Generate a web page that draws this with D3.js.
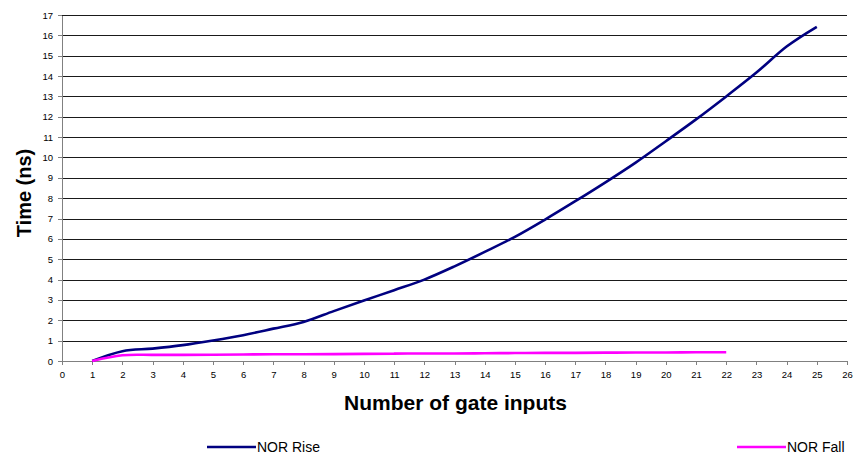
<!DOCTYPE html>
<meta charset="utf-8">
<style>
body {
  margin: 0;
  background-color: #ffffff;
}
.axis text {
  font: 9.5px "Liberation Sans", Arial, sans-serif;
  fill: #000;
}
.axis path,
.axis line {
  fill: none;
  stroke: #808080;
  stroke-width: 1px;
  shape-rendering: crispEdges;
}
.grid line {
  stroke: #1a1a1a;
  stroke-width: 1px;
  shape-rendering: crispEdges;
}
.grid path {
  display: none;
}
.title {
  font: bold 21px "Liberation Sans", Arial, sans-serif;
  fill: #000;
}
.legend text {
  font: 14px "Liberation Sans", Arial, sans-serif;
  fill: #000;
}
</style>
<body>
<script src="https://d3js.org/d3.v7.min.js"></script>
<script>
  // gate inputs
  var riseInputs = [1, 2, 3, 4, 5, 6, 7, 8, 9, 10, 11, 12, 13, 14, 15, 16, 17, 18, 19, 20, 21, 22, 23, 24, 25];
  var fallInputs = [1, 2, 3, 4, 5, 6, 7, 8, 9, 10, 11, 12, 13, 14, 15, 16, 17, 18, 19, 20, 21, 22];
  // times in ns
  var norRise = [0, 0.48, 0.61, 0.78, 1.01, 1.27, 1.59, 1.92, 2.45, 2.97, 3.48, 4.0, 4.65, 5.36, 6.1, 6.95, 7.85, 8.78, 9.75, 10.8, 11.87, 13.0, 14.17, 15.45, 16.42];
  var norFall = [0, 0.28, 0.3, 0.3, 0.31, 0.32, 0.33, 0.33, 0.34, 0.35, 0.36, 0.37, 0.37, 0.38, 0.39, 0.4, 0.4, 0.41, 0.42, 0.42, 0.43, 0.43];
  var xTicks = d3.range(0, 27);
  var yTicks = d3.range(0, 18);

  var margin = {top: 15, right: 6, bottom: 98, left: 62},
      width = 853 - margin.left - margin.right,
      height = 459 - margin.top - margin.bottom;

  var x = d3.scaleLinear().domain([0, 26]).range([0, width]);
  var y = d3.scaleLinear().domain([0, 17]).range([height, 0]);

  var svg = d3.select("body").append("svg")
      .attr("width", 853)
      .attr("height", 459)
    .append("g")
      .attr("transform", "translate(" + margin.left + "," + margin.top + ")");

  // horizontal gridlines
  svg.append("g")
      .attr("class", "grid")
      .call(d3.axisLeft(y).tickValues(yTicks.slice(1)).tickSize(-width).tickFormat(""));

  // y axis
  svg.append("g")
      .attr("class", "axis")
      .call(d3.axisLeft(y).tickValues(yTicks).tickSize(4).tickSizeOuter(0).tickPadding(5).tickFormat(d3.format("d")));

  // x axis
  svg.append("g")
      .attr("class", "axis")
      .attr("transform", "translate(0," + height + ")")
      .call(d3.axisBottom(x).tickValues(xTicks).tickSize(4).tickSizeOuter(0).tickPadding(6).tickFormat(d3.format("d")));

  var line = d3.line()
      .x(function(d) { return x(d[0]); })
      .y(function(d) { return y(d[1]); })
      .curve(d3.curveCatmullRom.alpha(0));

  var series = [
    {name: "NOR Rise", color: "#000080", xs: riseInputs, ys: norRise},
    {name: "NOR Fall", color: "#ff00ff", xs: fallInputs, ys: norFall}
  ];

  svg.selectAll(".series")
      .data(series)
    .enter().append("path")
      .attr("class", "series")
      .attr("fill", "none")
      .attr("stroke", function(d) { return d.color; })
      .attr("stroke-width", 2.6)
      .attr("d", function(d) { return line(d.xs.map(function(v, i) { return [v, d.ys[i]]; })); });

  // axis titles
  svg.append("text")
      .attr("class", "title")
      .attr("text-anchor", "middle")
      .attr("x", width / 2 + 1)
      .attr("y", height + 49)
      .text("Number of gate inputs");

  svg.append("text")
      .attr("class", "title")
      .style("font-size", "20px")
      .attr("text-anchor", "middle")
      .attr("transform", "translate(-31," + (height / 2 + 5) + ") rotate(-90)")
      .text("Time (ns)");

  // legend
  var legendX = [207, 737];
  var legend = d3.select("svg").selectAll(".legend")
      .data(series)
    .enter().append("g")
      .attr("class", "legend")
      .attr("transform", function(d, i) { return "translate(" + legendX[i] + ",447)"; });

  legend.append("line")
      .attr("x1", 0).attr("x2", 49)
      .attr("stroke", function(d) { return d.color; })
      .attr("stroke-width", 2.6);

  legend.append("text")
      .attr("x", 50)
      .attr("dy", "0.35em")
      .text(function(d) { return d.name; });
</script>
</body>
